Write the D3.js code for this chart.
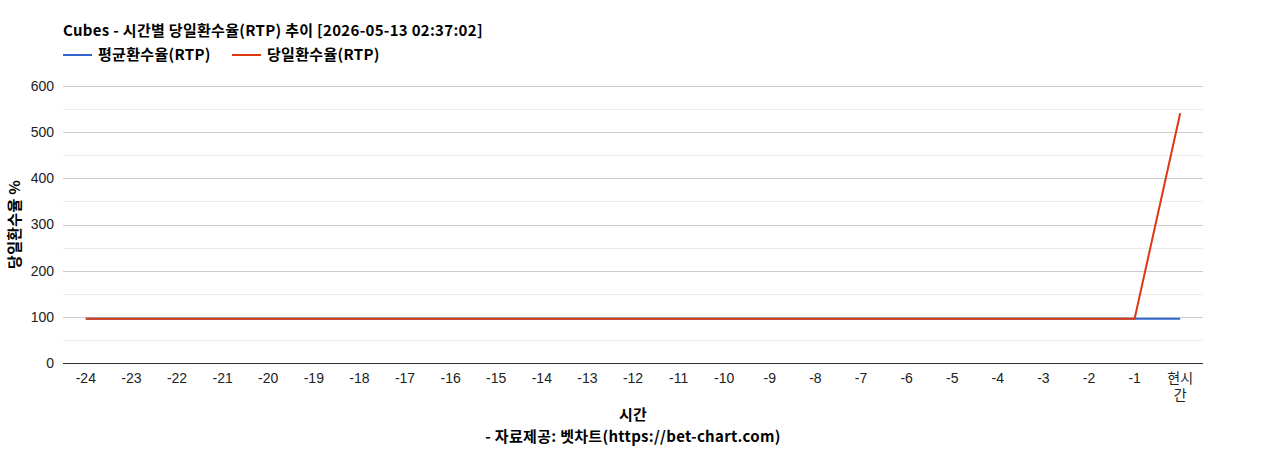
<!DOCTYPE html>
<html>
<head>
<meta charset="utf-8">
<script src="https://cdn.jsdelivr.net/npm/d3@7"></script>
<style>
  body { margin: 0; background: #fff; }
  text { font-family: Arial, "Liberation Sans", "Noto Sans CJK KR", sans-serif; }
  .kr { font-family: "Noto Sans CJK KR", "Noto Sans", sans-serif; font-weight: bold; font-size: 15px; letter-spacing: 0.3px; }
</style>
</head>
<body>
<div id="chart"></div>
<script>
// categories (hours) and series
const hours = ['-24', '-23', '-22', '-21', '-20', '-19', '-18', '-17', '-16', '-15', '-14', '-13',
  '-12', '-11', '-10', '-9', '-8', '-7', '-6', '-5', '-4', '-3', '-2', '-1', '현시간']
const avgRtp = [96, 96, 96, 96, 96, 96, 96, 96, 96, 96, 96, 96,
  96, 96, 96, 96, 96, 96, 96, 96, 96, 96, 96, 96, 96]
const dayRtp = [96, 96, 96, 96, 96, 96, 96, 96, 96, 96, 96, 96,
  96, 96, 96, 96, 96, 96, 96, 96, 96, 96, 96, 96, 541]
const yTicks = [0, 100, 200, 300, 400, 500, 600]
const yMinor = [50, 150, 250, 350, 450, 550]

const W = 1268
const H = 450
const margin = { top: 86, right: 65, bottom: 87, left: 63 }
const width = W - margin.left - margin.right
const height = H - margin.top - margin.bottom

const svg = d3.select('#chart').append('svg')
  .attr('width', W)
  .attr('height', H)

// title + legend
svg.append('text').attr('class', 'kr')
  .attr('x', 63).attr('y', 36)
  .text('Cubes - 시간별 당일환수율(RTP) 추이 [2026-05-13 02:37:02]')

const legend = [
  { name: '평균환수율(RTP)', color: '#3366cc', x: 63 },
  { name: '당일환수율(RTP)', color: '#dc3912', x: 232 }
]
legend.forEach(function(l) {
  svg.append('line')
    .attr('x1', l.x).attr('x2', l.x + 29)
    .attr('y1', 55).attr('y2', 55)
    .attr('stroke', l.color).attr('stroke-width', 2)
  svg.append('text').attr('class', 'kr')
    .attr('x', l.x + 35).attr('y', 60)
    .text(l.name)
})

const g = svg.append('g')
  .attr('transform', 'translate(' + margin.left + ',' + margin.top + ')')

const x = d3.scaleBand().domain(hours).range([0, width])
const y = d3.scaleLinear().domain([0, 600]).range([height, 0])

// minor + major gridlines
g.selectAll('.minor').data(yMinor).enter().append('line')
  .attr('x1', 0).attr('x2', width)
  .attr('y1', d => Math.round(y(d)) + 0.5).attr('y2', d => Math.round(y(d)) + 0.5)
  .attr('stroke', '#ebebeb')
g.selectAll('.major').data(yTicks.slice(1)).enter().append('line')
  .attr('x1', 0).attr('x2', width)
  .attr('y1', d => Math.round(y(d)) + 0.5).attr('y2', d => Math.round(y(d)) + 0.5)
  .attr('stroke', '#cccccc')

// y axis labels
g.append('g')
  .call(d3.axisLeft(y).tickValues(yTicks).tickSize(0).tickPadding(9))
  .call(a => a.select('.domain').remove())
  .selectAll('text')
  .style('font-size', '14px').style('fill', '#222')
  .attr('font-family', null)

// x axis
const xa = g.append('g')
  .attr('transform', 'translate(0,' + height + ')')
  .call(d3.axisBottom(x).tickSize(0).tickPadding(10))
xa.select('.domain').remove()
xa.selectAll('text')
  .style('font-size', '14px').style('fill', '#222')
  .attr('font-family', null)
  .each(function(d) {
    if (d.length > 2 && !d.startsWith('-')) {
      const t = d3.select(this).text(null)
      t.append('tspan').attr('x', 0).attr('dy', '0.71em').text(d.slice(0, 2))
      t.append('tspan').attr('x', 0).attr('dy', '1.2em').text(d.slice(2))
      t.attr('dy', null)
    }
  })
g.append('line')
  .attr('x1', 0).attr('x2', width)
  .attr('y1', height + 0.5).attr('y2', height + 0.5)
  .attr('stroke', '#333')

// lines
const line = d3.line()
  .x((d, i) => x(hours[i]) + x.bandwidth() / 2)
  .y(d => y(d))

g.append('path').datum(avgRtp)
  .attr('d', line).attr('fill', 'none')
  .attr('stroke', '#3366cc').attr('stroke-width', 2)
g.append('path').datum(dayRtp)
  .attr('d', line).attr('fill', 'none')
  .attr('stroke', '#dc3912').attr('stroke-width', 2)

// axis titles
svg.append('text').attr('class', 'kr')
  .attr('transform', 'translate(20,' + (margin.top + height / 2) + ') rotate(-90)')
  .attr('text-anchor', 'middle')
  .text('당일환수율 %')
svg.append('text').attr('class', 'kr')
  .attr('x', margin.left + width / 2).attr('y', 420)
  .attr('text-anchor', 'middle')
  .text('시간')
svg.append('text').attr('class', 'kr')
  .attr('x', margin.left + width / 2).attr('y', 442)
  .attr('text-anchor', 'middle')
  .text('- 자료제공: 벳차트(https://bet-chart.com)')
</script>
</body>
</html>
